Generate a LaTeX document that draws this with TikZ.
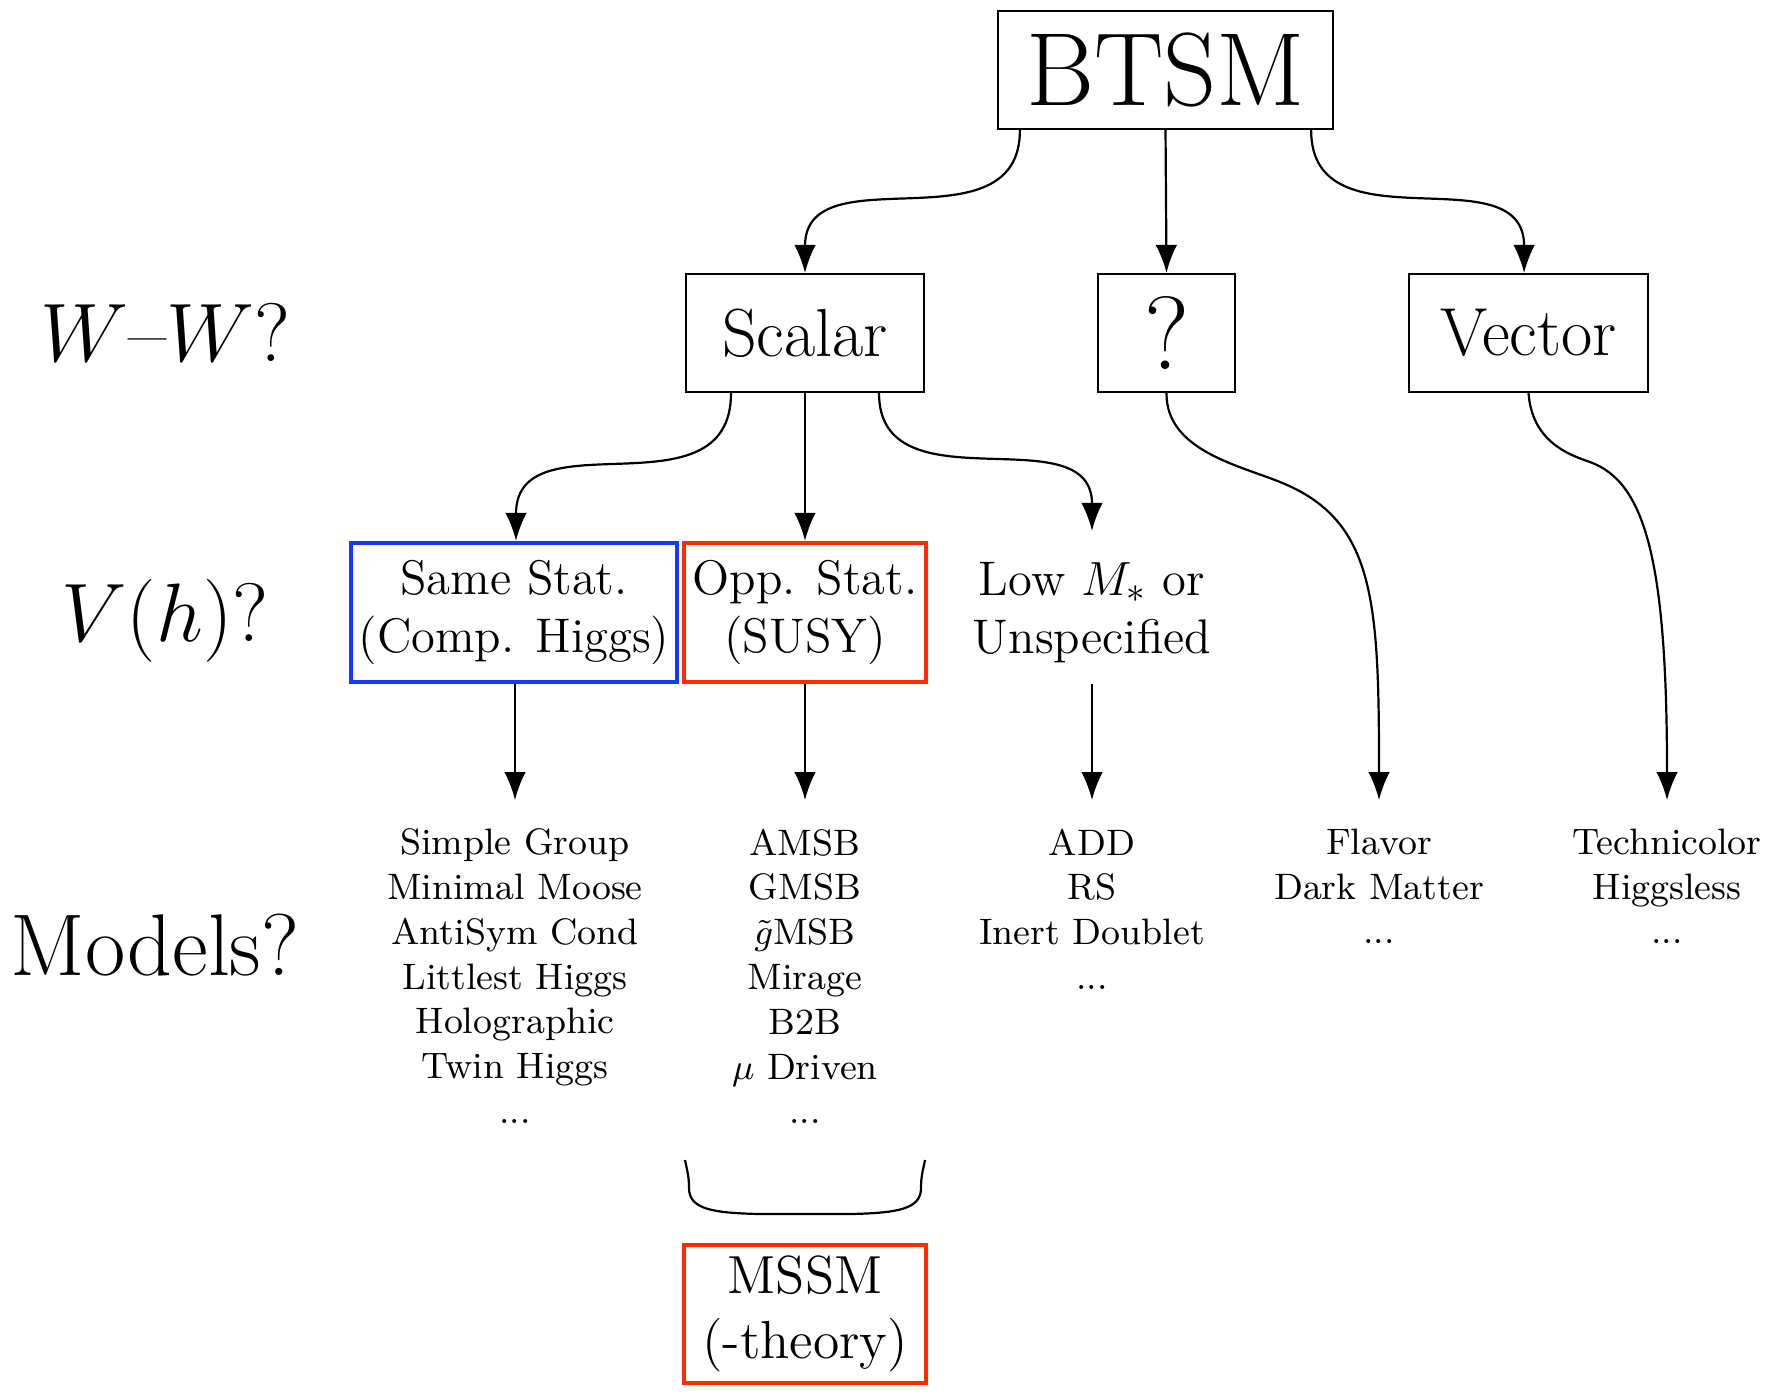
\documentclass[tikz,border=0pt]{standalone}
\usetikzlibrary{arrows.meta}
\definecolor{boxblue}{RGB}{25,55,255}
\definecolor{boxred}{RGB}{255,42,0}
\begin{document}
\begin{tikzpicture}[x=0.25pt,y=-0.25pt,
  box/.style={draw, line width=0.55pt, inner sep=0pt, align=center},
  bigbox/.style={box, minimum height=29.5pt, font=\fontsize{17}{20}\selectfont},
  statbox/.style={box, line width=1.1pt, minimum height=34.75pt, font=\fontsize{12.15}{14.4}\selectfont},
  conn/.style={-{Latex[length=7pt,width=5.4pt]}, line width=0.55pt},
  modlist/.style={anchor=north, align=center, inner xsep=0pt, inner ysep=7pt, font=\fontsize{9.2}{11.2}\selectfont},
  rowlabel/.style={anchor=base, inner sep=0pt, font=\fontsize{20.74}{25}\selectfont}]
\useasboundingbox (0,0) rectangle (1772,1393);

% top
\node[box, minimum width=83.75pt, minimum height=29.5pt, font=\fontsize{26}{30}\selectfont] (btsm) at (1165.5,70) {BTSM};

% W-W level
\node[bigbox, minimum width=59.5pt] (scalar) at (805,333) {Scalar};
\node[bigbox, minimum width=34.4pt, font=\fontsize{26}{30}\selectfont] (unk) at (1166.5,333) {?};
\node[bigbox, minimum width=59.75pt] (vector) at (1528.5,333) {Vector};

% V(h) level
\node[statbox, draw=boxblue, minimum width=81.5pt] (same) at (514,612.5) {Same Stat.\\(Comp. Higgs)};
\node[statbox, draw=boxred, minimum width=60.5pt] (opp) at (805,612.5) {Opp. Stat.\\(SUSY)};
\node[statbox, draw=none, minimum width=60.5pt] (low) at (1092,612.5) {Low $M_*$ or\\Unspecified};

% row labels
\node[rowlabel] (lww) at (165,361) {$W$--$W$?};
\node[rowlabel] (lvh) at (165,641) {$V(h)$?};
\node[rowlabel, font=\fontsize{21.9}{26}\selectfont] (lmod) at (155,975) {Models?};

% model lists
\node[modlist] (m1) at (515,800) {Simple Group\\Minimal Moose\\AntiSym Cond\\Littlest Higgs\\Holographic\\Twin Higgs\\...};
\node[modlist] (m2) at (805,800) {AMSB\\GMSB\\$\tilde{g}$MSB\\Mirage\\B2B\\$\mu$ Driven\\...};
\node[modlist] (m3) at (1092,800) {ADD\\RS\\Inert Doublet\\...};
\node[modlist] (m4) at (1379,800) {Flavor\\Dark Matter\\...};
\node[modlist] (m5) at (1667,800) {Technicolor\\Higgsless\\...};

% MSSM
\node[statbox, draw=boxred, minimum width=60.5pt, minimum height=34.5pt, font=\fontsize{13.4}{16.4}\selectfont] (mssm) at (805,1314) {MSSM\\(-theory)};

% connectors from BTSM
\draw[conn] ([xshift=-36.4pt]btsm.south) .. controls +(0,121) and +(0,-121) .. (scalar.north);
\draw[conn] (btsm.south) -- (unk.north);
\draw[conn] ([xshift=36.4pt]btsm.south) .. controls +(0,121) and +(0,-121) .. ([xshift=-1.1pt]vector.north);

% connectors from Scalar
\draw[conn] ([xshift=-18.5pt]scalar.south) .. controls +(0,126) and +(0,-126) .. ([xshift=0.5pt]same.north);
\draw[conn] (scalar.south) -- (opp.north);
\draw[conn] ([xshift=18.5pt]scalar.south) .. controls +(0,117) and +(0,-117) .. ([yshift=2.5pt]low.north);

% connectors to model lists
\draw[conn] ([xshift=0.25pt]same.south) -- (m1.north);
\draw[conn] (opp.south) -- (m2.north);
\draw[conn] (low.south) -- (m3.north);
\draw[conn] (unk.south) .. controls (1166,450) and (1238,465) .. (1280,482)
  .. controls (1375,520) and (1379,600) .. (m4.north);
\draw[conn] (vector.south) .. controls (1532,440) and (1566,454) .. (1590,462)
  .. controls (1645,482) and (1667,560) .. (m5.north);

% brace under SUSY models
\draw[line width=0.55pt] (685,1160) .. controls (687,1170) and (689,1176) .. (689,1188)
  .. controls (689,1209) and (712,1213) .. (760,1214) -- (850,1214)
  .. controls (898,1213) and (921,1209) .. (921,1188)
  .. controls (921,1176) and (923,1170) .. (925,1160);
\end{tikzpicture}
\end{document}
